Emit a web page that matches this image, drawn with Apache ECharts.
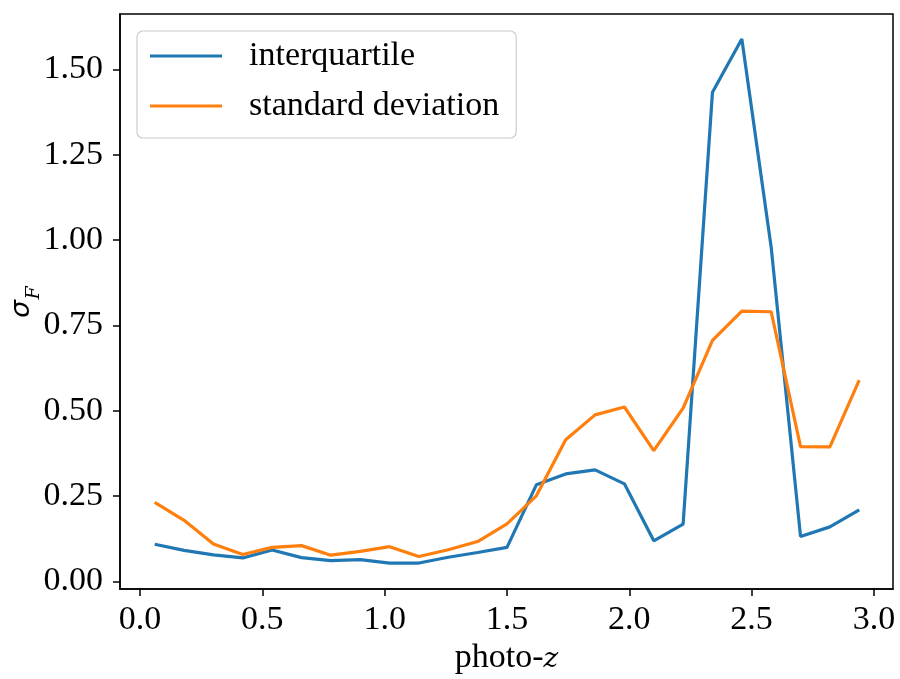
<!DOCTYPE html>
<html>
<head>
<meta charset="utf-8">
<script src="https://cdn.jsdelivr.net/npm/echarts@6/dist/echarts.min.js"></script>
<style>html,body{margin:0;padding:0;background:#fff}#c{width:900px;height:679px}</style>
</head>
<body>
<div id="c"></div>
<script>
const photoZ = [0.06,0.18,0.30,0.42,0.54,0.66,0.78,0.90,1.02,1.14,1.26,1.38,1.50,1.62,1.74,1.86,1.98,2.10,2.22,2.34,2.46,2.58,2.70,2.82,2.94];
const interquartile = [0.109,0.091,0.078,0.069,0.092,0.070,0.061,0.064,0.054,0.054,0.071,0.085,0.100,0.283,0.315,0.327,0.286,0.119,0.168,1.433,1.589,0.979,0.132,0.160,0.210];
const stdDeviation = [0.232,0.179,0.110,0.079,0.100,0.105,0.077,0.088,0.102,0.073,0.093,0.117,0.169,0.251,0.415,0.488,0.511,0.383,0.508,0.706,0.792,0.790,0.395,0.394,0.590];
const xTicks = [0.0,0.5,1.0,1.5,2.0,2.5,3.0];
const yTicks = [0.00,0.25,0.50,0.75,1.00,1.25,1.50];
const seriesNames = ['interquartile','standard deviation'];

const FONT = '"Liberation Serif", "Times New Roman", serif';
const MATH = '"DejaVu Serif", "Liberation Serif", serif';
const FS = 34;
const chart = echarts.init(document.getElementById('c'), null, {renderer:'canvas'});
const pair = (xs, ys) => xs.map((x,i)=>[x, ys[i]]);
chart.setOption({
  animation:false,
  backgroundColor:'#fff',
  grid:{left:120,right:7,top:14,bottom:90,containLabel:false,outerBoundsMode:'none',show:true,borderColor:'#000',borderWidth:1.5,backgroundColor:'transparent'},
  legend:{
    left:137, top:31, orient:'vertical',
    padding:[7,17,14,13],
    itemWidth:72, itemHeight:3, itemGap:14,
    icon:'rect',
    borderColor:'#cccccc', borderWidth:1.2, borderRadius:6,
    backgroundColor:'rgba(255,255,255,0.8)',
    textStyle:{fontFamily:FONT,fontSize:FS,color:'#000',lineHeight:36,padding:[0,0,0,22]},
    data:seriesNames
  },
  xAxis:{
    type:'value', min:-0.082, max:3.078,
    axisLine:{show:true,onZero:false,lineStyle:{color:'#000',width:1.5}},
    axisTick:{show:true,length:7,lineStyle:{color:'#000',width:1.5},customValues:xTicks},
    axisLabel:{fontFamily:FONT,fontSize:FS,color:'#000',margin:14,customValues:xTicks,formatter:v=>v.toFixed(1)},
    splitLine:{show:false},
    name:'{a|photo-}{b|𝑧}', nameLocation:'middle', nameGap:49, nameMoveOverlap:false,
    nameTextStyle:{fontFamily:FONT,fontSize:FS,color:'#000',rich:{
      a:{fontFamily:FONT,fontSize:FS,color:'#000',lineHeight:40,verticalAlign:'middle'},
      b:{fontFamily:MATH,fontSize:28,color:'#000',lineHeight:40,verticalAlign:'middle',padding:[4,0,0,0]}}}
  },
  yAxis:{
    type:'value', min:-0.022, max:1.662,
    axisLine:{show:true,onZero:false,lineStyle:{color:'#000',width:1.5}},
    axisTick:{show:true,length:7,lineStyle:{color:'#000',width:1.5},customValues:yTicks},
    axisLabel:{fontFamily:FONT,fontSize:FS,color:'#000',margin:17,customValues:yTicks,formatter:v=>v.toFixed(2)},
    splitLine:{show:false},
    name:'{s|𝜎}{f|𝐹}', nameLocation:'middle', nameGap:76, nameRotate:90, nameMoveOverlap:false,
    nameTextStyle:{fontFamily:MATH,color:'#000',rich:{
      s:{fontFamily:MATH,fontSize:28,color:'#000',lineHeight:44,verticalAlign:'middle'},
      f:{fontFamily:MATH,fontSize:19,color:'#000',lineHeight:19,verticalAlign:'bottom'}
    }}
  },
  series:[
    {name:seriesNames[0],type:'line',data:pair(photoZ,interquartile),symbol:'none',showSymbol:false,color:'#1f77b4',lineStyle:{width:3.2,color:'#1f77b4'}},
    {name:seriesNames[1],type:'line',data:pair(photoZ,stdDeviation),symbol:'none',showSymbol:false,color:'#ff7f0e',lineStyle:{width:3.2,color:'#ff7f0e'}}
  ]
});
</script>
</body>
</html>
